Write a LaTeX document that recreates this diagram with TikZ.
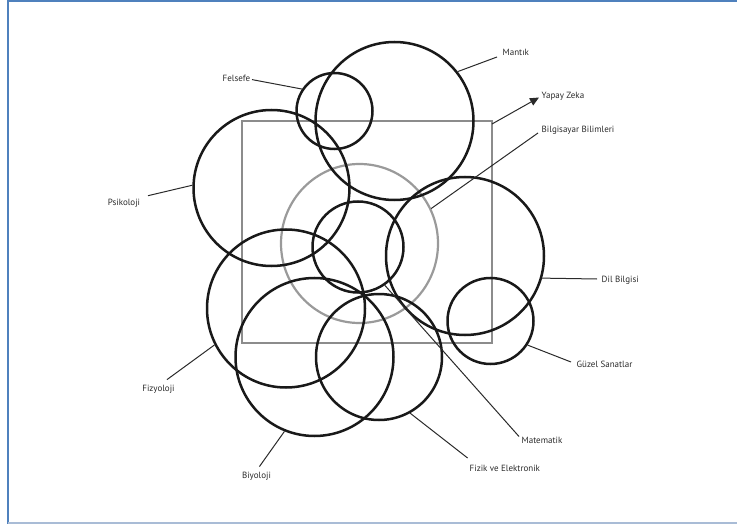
\documentclass[tikz,border=0pt]{standalone}
\usepackage{fontspec}
\setmainfont{PT Sans}
\usetikzlibrary{shapes.geometric,arrows.meta}
\definecolor{frameblue}{HTML}{4F81BD}
\definecolor{framelight}{HTML}{A9BCD6}
\definecolor{boxgray}{HTML}{8C8C8C}
\definecolor{ringgray}{HTML}{9A9A9A}
\definecolor{txtgray}{HTML}{2A2A2A}
\tikzset{
  field/.style={ellipse,draw=black!90,line width=2.5pt,minimum width=#1,minimum height=#1,inner sep=0pt},
  lab/.style={font=\fontsize{9}{10}\selectfont,text=txtgray,inner sep=1.5pt},
  leader/.style={draw=txtgray,line width=1pt},
}
\begin{document}
\begin{tikzpicture}[x=1pt,y=-1pt]
\useasboundingbox (0,0) rectangle (737,524);
% frame
\draw[frameblue,line width=2pt] (7.5,524) -- (7.5,0.8) -- (737,0.8);
\draw[framelight,line width=1.5pt] (7.5,522.8) -- (737,522.8);
% gray rectangle and ring
\node[draw=boxgray,line width=2.4pt,rectangle,minimum width=250pt,minimum height=222pt,inner sep=0pt] (ai) at (367,232) {};
\node[ellipse,draw=ringgray,line width=2.2pt,minimum width=157pt,minimum height=159pt,inner sep=0pt] (cs) at (359.5,243.5) {};
% fields
\node[field=158pt] (mantik) at (394.5,121) {};
\node[field=76pt] (felsefe) at (334.5,111) {};
\node[field=156pt] (psik) at (271.5,188) {};
\node[field=91pt] (mat) at (358,247) {};
\node[field=158pt] (dil) at (465,256) {};
\node[field=86pt] (guzel) at (490.5,321) {};
\node[field=158pt] (fizyo) at (286,308.5) {};
\node[field=158pt] (biyo) at (314.5,357) {};
\node[field=126pt] (fizik) at (379,357) {};
% labels
\node[lab,anchor=west] (lmantik) at (501,52.5) {Mantık};
\node[lab,anchor=east] (lfelsefe) at (252,78.6) {Felsefe};
\node[lab,anchor=west] (lyapay) at (540,96) {Yapay Zeka};
\node[lab,anchor=west] (lbil) at (540,130) {Bilgisayar Bilimleri};
\node[lab] (lpsik) at (124,203) {Psikoloji};
\node[lab,anchor=west] (ldil) at (600,280) {Dil Bilgisi};
\node[lab,anchor=west] (lguzel) at (575,364.5) {Güzel Sanatlar};
\node[lab,anchor=west] (lmat) at (520,440) {Matematik};
\node[lab,anchor=west] (lfizik) at (468,468) {Fizik ve Elektronik};
\node[lab] (lfizyo) at (158.5,389) {Fizyoloji};
\node[lab] (lbiyo) at (256.5,476.6) {Biyoloji};
% leader ends
\coordinate (syapay) at (492,124);
\coordinate (emantik) at (497,57);
\coordinate (efelsefe) at (252,79.6);
\coordinate (eyapay) at (539,97.5);
\coordinate (ebil) at (538,133);
\coordinate (epsik) at (148,195.7);
\coordinate (edil) at (597,279);
\coordinate (eguzel) at (571,362);
\coordinate (emat) at (519,436.5);
\coordinate (efizik) at (467.6,458);
\coordinate (efizyo) at (167,379.6);
\coordinate (ebiyo) at (259.4,466.6);
\draw[leader] (mantik.38) -- (emantik);
\draw[leader] (felsefe.146) -- (efelsefe);
\draw[leader,-{Triangle[length=9pt,width=8pt]}] (syapay) -- (eyapay);
\draw[leader] (cs.26) -- (ebil);
\draw[leader] (psik.178) -- (epsik);
\draw[leader] (dil.-16) -- (edil);
\draw[leader] (guzel.-33) -- (eguzel);
\draw[leader] (mat.-55) -- (emat);
\draw[leader] (fizik.-61) -- (efizik);
\draw[leader] (fizyo.-153) -- (efizyo);
\draw[leader] (biyo.-112) -- (ebiyo);
\end{tikzpicture}
\end{document}
